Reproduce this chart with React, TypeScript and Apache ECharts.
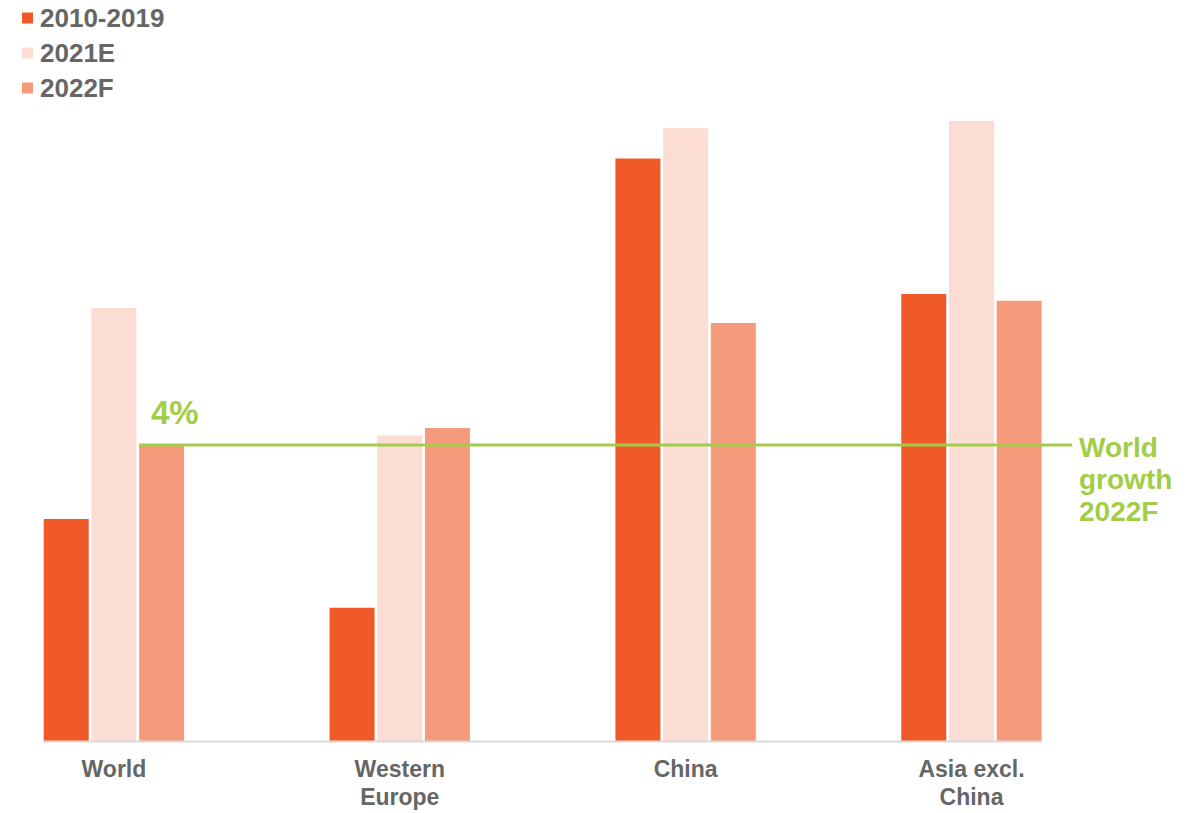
import React, { useEffect, useRef } from "react";
import * as echarts from "echarts";

const categories = ["World", "Western\nEurope", "China", "Asia excl.\nChina"];
const seriesNames = ["2010-2019", "2021E", "2022F"];
const avg2010to2019 = [3.0, 1.8, 7.87, 6.04];
const est2021 = [5.85, 4.13, 8.28, 8.38];
const fc2022 = [4.0, 4.23, 5.65, 5.95];
const worldGrowth2022 = 4.0;
const worldGrowthLabel = "World\ngrowth\n2022F";

const COLORS = ["#F05A28", "#FBDDD3", "#F59B7C"];
const GREEN = "#A2CD48";
const GRAY = "#666666";
const FONT = "'Liberation Sans', Arial, sans-serif";
const SHIFT = 29; // the chart container starts SHIFT px left of the page

export default function App() {
  const ref = useRef<HTMLDivElement>(null);
  useEffect(() => {
    if (!ref.current) return;
    const chart = echarts.init(ref.current, null, { renderer: "svg" });
    const values = [avg2010to2019, est2021, fc2022];
    chart.setOption({
      animation: false,
      backgroundColor: "#ffffff",
      textStyle: { fontFamily: FONT },
      legend: {
        orient: "vertical",
        left: 17 + SHIFT,
        top: 0,
        itemWidth: 11,
        itemHeight: 11,
        itemGap: 9,
        icon: "rect",
        data: seriesNames,
        textStyle: { fontSize: 26, fontWeight: "bold", color: GRAY, fontFamily: FONT, padding: [0, 0, 0, 2] },
      },
      grid: { left: 0, right: 86.6, top: 75, bottom: 72, containLabel: false },
      xAxis: [
        {
          type: "category",
          data: categories,
          axisLine: { show: false },
          axisTick: { show: false },
          axisLabel: {
            margin: 14,
            fontSize: 23,
            fontWeight: "bold",
            color: GRAY,
            lineHeight: 28,
            fontFamily: FONT,
          },
        },
        { type: "value", min: -0.5, max: 3.5, show: false },
      ],
      yAxis: { type: "value", min: 0, max: 9, show: false },
      series: [
        ...seriesNames.map((name, i) => ({
          name,
          type: "bar",
          data: values[i],
          barWidth: 45,
          barGap: "6%",
          itemStyle: { color: COLORS[i] },
          xAxisIndex: 0,
        })),
        {
          type: "line",
          xAxisIndex: 1,
          data: [
            [0.0875, worldGrowth2022],
            [3.352, worldGrowth2022],
          ],
          showSymbol: false,
          symbol: "none",
          lineStyle: { color: GREEN, width: 3 },
          z: 5,
        },
      ],
      graphic: [
        {
          type: "line",
          shape: { x1: 43 + SHIFT, y1: 741.5, x2: 1042 + SHIFT, y2: 741.5 },
          style: { stroke: "#D9D9D9", lineWidth: 2 },
          z: 10,
        },
        {
          type: "text",
          x: 151 + SHIFT,
          y: 412.5,
          z: 20,
          style: {
            text: `${Math.round(worldGrowth2022)}%`,
            fontSize: 33,
            fontWeight: "bold",
            fill: GREEN,
            fontFamily: FONT,
            verticalAlign: "middle",
          },
        },
        {
          type: "text",
          x: 1079 + SHIFT,
          y: 431,
          z: 20,
          style: {
            text: worldGrowthLabel,
            fontSize: 28,
            fontWeight: "bold",
            fill: GREEN,
            fontFamily: FONT,
            lineHeight: 32,
            verticalAlign: "top",
          },
        },
      ],
    });
    return () => chart.dispose();
  }, []);
  return (
    <div
      ref={ref}
      style={{ position: "absolute", left: -SHIFT, top: 0, width: 1201 + SHIFT, height: 813 }}
    />
  );
}
